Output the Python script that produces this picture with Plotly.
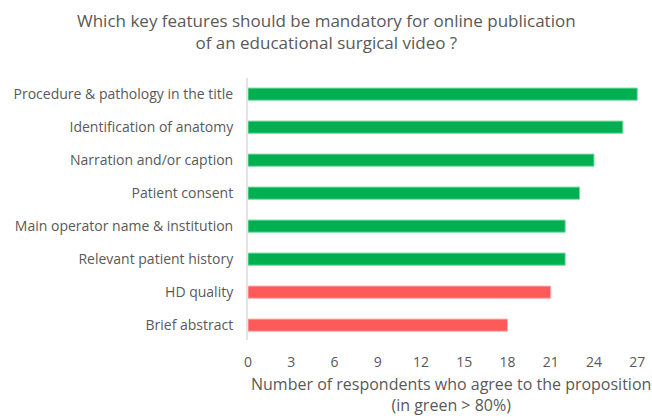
import plotly.graph_objects as go

features = [
    "Procedure & pathology in the title",
    "Identification of anatomy",
    "Narration and/or caption",
    "Patient consent",
    "Main operator name & institution",
    "Relevant patient history",
    "HD quality",
    "Brief abstract",
]
respondents = [27, 26, 24, 23, 22, 22, 21, 18]
above_80pct = [True, True, True, True, True, True, False, False]
x_ticks = [0, 3, 6, 9, 12, 15, 18, 21, 24, 27]

GREEN = "#00B050"
RED = "#FF5A5A"
TEXT = "#595959"
FONT = "Open Sans"

W, H = 652, 418
ML, MR, MT, MB = 248, 14, 78, 78
plot_w = W - ML - MR
plot_h = H - MT - MB

colors = [GREEN if ok else RED for ok in above_80pct]
edge = ["#7fdca8" if ok else "#ffb0b0" for ok in above_80pct]

fig = go.Figure(
    go.Bar(
        x=respondents,
        y=features,
        orientation="h",
        marker=dict(color=colors, line=dict(color=edge, width=1)),
        width=0.37,
        hoverinfo="x+y",
    )
)

fig.update_layout(
    width=W,
    height=H,
    paper_bgcolor="white",
    plot_bgcolor="white",
    showlegend=False,
    margin=dict(l=ML, r=MR, t=MT, b=MB, autoexpand=False),
    font=dict(family=FONT, color=TEXT, size=14),
)

fig.update_xaxes(
    range=[0, 27.05],
    tickvals=x_ticks,
    ticktext=[str(v) for v in x_ticks],
    showgrid=False,
    zeroline=False,
    showline=False,
    ticks="",
    ticklabelstandoff=12,
    tickfont=dict(size=14, color=TEXT),
    automargin=False,
    fixedrange=True,
)

fig.update_yaxes(
    categoryorder="array",
    categoryarray=features[::-1],
    showgrid=False,
    zeroline=False,
    showline=True,
    linecolor="#e3e3e3",
    linewidth=2,
    ticks="",
    ticklabelstandoff=10,
    tickfont=dict(size=14, color=TEXT),
    range=[-0.45, 7.49],
    automargin=False,
    fixedrange=True,
)

# Chart title, centred on the whole figure
fig.add_annotation(
    text="Which key features should be mandatory for online publication<br>of an educational surgical video ?",
    xref="paper",
    yref="paper",
    x=(W / 2 - ML) / plot_w,
    y=1 + (MT - 7) / plot_h,
    xanchor="center",
    yanchor="top",
    showarrow=False,
    align="center",
    font=dict(family=FONT, size=17, color=TEXT),
)

# X-axis title
fig.add_annotation(
    text="Number of respondents who agree to the proposition<br>(in green > 80%)",
    xref="paper",
    yref="paper",
    x=(451 - ML) / plot_w,
    y=-0.12,
    xanchor="center",
    yanchor="top",
    showarrow=False,
    align="center",
    font=dict(family=FONT, size=16, color=TEXT),
)

fig.write_html("out.html")
